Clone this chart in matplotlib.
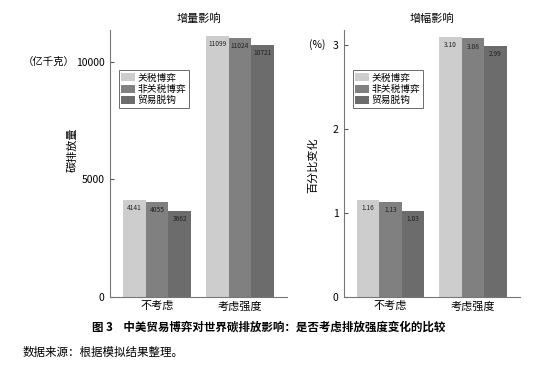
import matplotlib

matplotlib.use("Agg")
import matplotlib.pyplot as plt  # noqa: E402
import numpy as np  # noqa: E402

plt.rcParams["font.family"] = ["Noto Sans CJK SC", "DejaVu Sans"]

categories = ["不考虑", "考虑强度"]
series = ["关税博弈", "非关税博弈", "贸易脱钩"]
colors = ["#cdcdcd", "#808080", "#6c6c6c"]

# 增量影响 (亿千克)
amount = [
    [4141, 11099],
    [4055, 11024],
    [3662, 10721],
]
amount_labels = [["4141", "11099"], ["4055", "11024"], ["3662", "10721"]]

# 增幅影响 (%)
pct = [
    [1.16, 3.10],
    [1.13, 3.08],
    [1.03, 2.99],
]
pct_labels = [["1.16", "3.10"], ["1.13", "3.08"], ["1.03", "2.99"]]

fig = plt.figure(figsize=(5.46, 3.73), dpi=100)
ax1 = fig.add_axes([0.2015, 0.2038, 0.324, 0.7158])
ax2 = fig.add_axes([0.630, 0.2038, 0.322, 0.7158])

width = 0.273
x = np.arange(len(categories))


def draw(ax, data, labels, ylim, yticks, title, label_off):
    for i, (vals, labs) in enumerate(zip(data, labels)):
        pos = x + (i - 1) * width
        ax.bar(pos, vals, width, color=colors[i], label=series[i], linewidth=0)
        for p, v, t in zip(pos, vals, labs):
            ax.text(p, v - label_off, t, ha="center", va="top", fontsize=4.8,
                    color="#222222")
    ax.set_xlim(-0.566, 1.566)
    ax.set_ylim(*ylim)
    ax.set_yticks(yticks)
    ax.set_xticks(x)
    ax.set_xticklabels(categories, fontsize=8)
    ax.tick_params(axis="x", length=0, pad=3)
    ax.tick_params(axis="y", direction="in", length=3, labelsize=7.5,
                   color="#555555", pad=4)
    for s in ("top", "right"):
        ax.spines[s].set_visible(False)
    for s in ("left", "bottom"):
        ax.spines[s].set_color("#777777")
        ax.spines[s].set_linewidth(0.8)
    ax.set_title(title, fontsize=8, pad=6)
    leg = ax.legend(loc="upper left", bbox_to_anchor=(0.05, 0.85), fontsize=7,
                    frameon=True, fancybox=False, handlelength=1.4,
                    handleheight=0.9, handletextpad=0.3, borderpad=0.25,
                    labelspacing=0.15, borderaxespad=0)
    leg.get_frame().set_edgecolor("#444444")
    leg.get_frame().set_linewidth(0.7)
    return leg


draw(ax1, amount, amount_labels, (0, 11360), [0, 5000, 10000], "增量影响", 180)
draw(ax2, pct, pct_labels, (0, 3.18), [0, 1, 2, 3], "增幅影响", 0.05)

fig.text(72 / 546, 1 - 150 / 373, "碳排放量", rotation=90, ha="center",
         va="center", fontsize=8)
fig.text(313 / 546, 1 - 165 / 373, "百分比变化", rotation=90, ha="center",
         va="center", fontsize=8)
fig.text(75 / 546, 1 - 62 / 373, "（亿千克）", ha="right", va="center",
         fontsize=7.5)
fig.text(326 / 546, 1 - 45 / 373, "(%)", ha="right", va="center",
         fontsize=7.5)

fig.text(0.493, 1 - 327 / 373,
         "图 3    中美贸易博弈对世界碳排放影响：是否考虑排放强度变化的比较",
         ha="center", va="center", fontsize=8.3, fontweight="bold")
fig.text(23 / 546, 1 - 352 / 373, "数据来源：根据模拟结果整理。", ha="left",
         va="center", fontsize=8.3)

fig.savefig("out.png", dpi=100)
